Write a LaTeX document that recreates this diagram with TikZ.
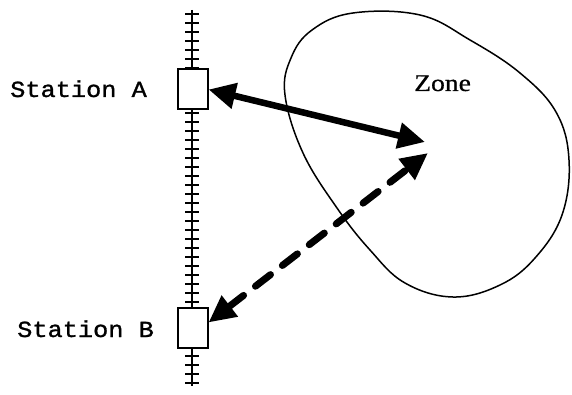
\documentclass[tikz,border=0pt]{standalone}
\usepackage{fontspec}
\usetikzlibrary{arrows.meta}
\newfontfamily\twfont[FakeStretch=1.1,FakeBold=1.2]{Liberation Mono}
\newfontfamily\zonefont[FakeStretch=1.15,FakeBold=0.6]{Liberation Serif}
\begin{document}
\begin{tikzpicture}[x=1pt,y=-1pt,
  stationbox/.style={draw,line width=2pt,fill=white,minimum width=30pt,minimum height=40pt,inner sep=0pt},
  stationlabel/.style={anchor=base west,inner sep=0pt,font=\twfont\fontsize{23}{23}\selectfont},
  zonelabel/.style={anchor=base west,inner sep=0pt,font=\zonefont\fontsize{24}{24}\selectfont},
  bigtip/.style={{Triangle[length=27pt,width=25pt]}-{Triangle[length=27pt,width=25pt]}},
  solidlink/.style={bigtip,line width=6.5pt},
  dashlink/.style={bigtip,line width=7pt,line cap=round,dash pattern=on 19pt off 15pt},
  zoneline/.style={line width=1.5pt}]
\useasboundingbox (0,0) rectangle (572,395);
% zone outline
\draw[zoneline] plot[smooth cycle,tension=0.65] coordinates {
  (353,13) (420,15) (470,40) (520,73) (556,112) (569,160) (562,215)
  (535,258) (500,285) (453,297) (405,283) (370,250) (337,208)
  (303,153) (285,95) (291,58) (312,30)};
\node[zonelabel] (zone) at (414,91) {Zone};
% track
\coordinate (ttop) at (192,10);
\coordinate (tbot) at (192,386);
\draw[line width=2.6pt] (ttop) -- (tbot);
\foreach \yy in {14,23,...,383} {
  \draw[line width=2pt] (185,\yy) -- (199,\yy);
}
% stations
\node[stationbox] (A) at (192.5,89.5) {};
\node[stationbox] (B) at (192.5,327.5) {};
\node[stationlabel] (la) at (10,97) {Station A};
\node[stationlabel] (lb) at (17,337) {Station B};
% links
\coordinate (za) at (425,142);
\coordinate (zb) at (428,153);
\draw[solidlink] (A.east) -- (za);
\draw[dashlink] ([yshift=5pt]B.east) -- (zb);
\end{tikzpicture}
\end{document}
